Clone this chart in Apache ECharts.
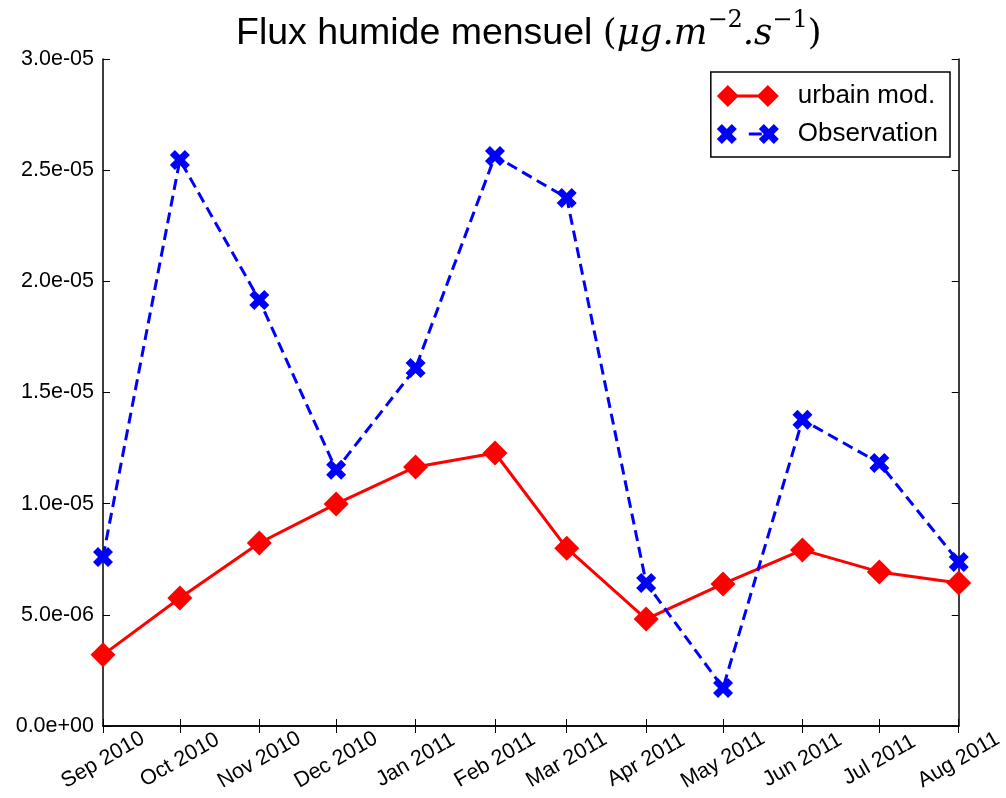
<!DOCTYPE html>
<html>
<head>
<meta charset="utf-8">
<script src="https://cdn.jsdelivr.net/npm/echarts@6/dist/echarts.min.js"></script>
<style>html,body{margin:0;padding:0;background:#fff;}#c{width:1006px;height:798px;}</style>
</head>
<body>
<div id="c"></div>
<script>
const dates = ['2010-09-01','2010-10-01','2010-11-01','2010-12-01','2011-01-01','2011-02-01','2011-03-01','2011-04-01','2011-05-01','2011-06-01','2011-07-01','2011-08-01'];
const monthLabels = ['Sep 2010','Oct 2010','Nov 2010','Dec 2010','Jan 2011','Feb 2011','Mar 2011','Apr 2011','May 2011','Jun 2011','Jul 2011','Aug 2011'];
const urbainMod = [3.2e-6, 5.76e-6, 8.23e-6, 9.99e-6, 11.65e-6, 12.28e-6, 8.0e-6, 4.81e-6, 6.39e-6, 7.92e-6, 6.93e-6, 6.43e-6];
const observation = [7.6e-6, 25.46e-6, 19.16e-6, 11.52e-6, 16.1e-6, 25.64e-6, 23.75e-6, 6.43e-6, 1.71e-6, 13.77e-6, 11.83e-6, 7.38e-6];

const FONT = 'Liberation Sans';
const MATH = 'DejaVu Serif';
const ts = dates.map(d => Date.UTC(+d.slice(0, 4), +d.slice(5, 7) - 1, +d.slice(8, 10)));

function fmtExp(v) {
  if (Math.abs(v) < 1e-20) return '0.0e+00';
  const s = v.toExponential(1);
  const parts = s.split('e');
  let e = parseInt(parts[1], 10);
  const sign = e < 0 ? '-' : '+';
  e = Math.abs(e);
  return parts[0] + 'e' + sign + (e < 10 ? '0' + e : '' + e);
}

const diamondIcon = 'path://M0,11 L11,0 L22,11 L11,22 Z M40,11 L51,0 L62,11 L51,22 Z M20,9.5 L42,9.5 L42,12.5 L20,12.5 Z';
const xShape = 'M3,0 L6,3 L9,0 L12,3 L9,6 L12,9 L9,12 L6,9 L3,12 L0,9 L3,6 L0,3 Z';
const xIcon = 'path://M5,0 L10,5 L15,0 L20,5 L15,10 L20,15 L15,20 L10,15 L5,20 L0,15 L5,10 L0,5 Z M47,0 L52,5 L57,0 L62,5 L57,10 L62,15 L57,20 L52,15 L47,20 L42,15 L47,10 L42,5 Z M32,8.5 L45,8.5 L45,11.5 L32,11.5 Z';

const chart = echarts.init(document.getElementById('c'));
chart.setOption({
  animation: false,
  backgroundColor: '#fff',
  title: {
    left: 236,
    top: 9,
    padding: 0,
    text: '{n|Flux humide mensuel }{m|(}{i|μg.m}{s|−2}{i|.s}{s|−1}{m|)}',
    textStyle: {
      fontWeight: 'normal',
      rich: {
        n: {fontFamily: FONT, fontSize: 37.5, fontWeight: 'normal', color: '#000', lineHeight: 44, verticalAlign: 'bottom'},
        m: {fontFamily: MATH, fontSize: 35.5, fontWeight: 'normal', color: '#000', lineHeight: 44, verticalAlign: 'bottom'},
        i: {fontFamily: MATH, fontStyle: 'italic', fontWeight: 'normal', fontSize: 35.5, color: '#000', lineHeight: 44, verticalAlign: 'bottom'},
        s: {fontFamily: MATH, fontSize: 24, fontWeight: 'normal', color: '#000', lineHeight: 40, verticalAlign: 'top'}
      }
    }
  },
  legend: {
    orient: 'vertical',
    right: 56,
    top: 72,
    padding: [9, 12, 8, 6],
    itemGap: 8,
    itemWidth: 62,
    itemHeight: 22,
    borderColor: '#000',
    borderWidth: 1.5,
    backgroundColor: '#fff',
    textStyle: {fontFamily: FONT, fontSize: 26, color: '#000', lineHeight: 30, padding: [0, 0, 0, 14]},
    data: [
      {name: 'urbain mod.', icon: diamondIcon},
      {name: 'Observation', icon: xIcon}
    ]
  },
  grid: {left: 103, right: 43, top: 59, bottom: 72, show: false},
  xAxis: [{
    type: 'value',
    min: ts[0],
    max: ts[ts.length - 1],
    position: 'bottom',
    axisLine: {show: true, lineStyle: {color: '#000', width: 1.5}},
    axisTick: {show: true, inside: true, length: 7, customValues: ts, lineStyle: {color: '#000', width: 1}},
    splitLine: {show: false},
    axisLabel: {
      customValues: ts,
      rotate: 30,
      align: 'center',
      verticalAlign: 'middle',
      margin: 34,
      fontFamily: FONT,
      fontSize: 21.5,
      color: '#000',
      formatter: function (v) {
        const i = ts.indexOf(v);
        return i >= 0 ? monthLabels[i] : '';
      }
    }
  }, {
    type: 'value',
    min: ts[0],
    max: ts[ts.length - 1],
    position: 'top',
    axisLine: {show: true, lineStyle: {color: '#000', width: 1.5}},
    axisTick: {show: true, inside: true, length: 7, customValues: ts, lineStyle: {color: '#000', width: 1}},
    axisLabel: {show: false},
    splitLine: {show: false}
  }],
  yAxis: [{
    type: 'value',
    min: 0,
    max: 3e-5,
    interval: 5e-6,
    position: 'left',
    axisLine: {show: true, lineStyle: {color: '#000', width: 1.5}},
    axisTick: {show: true, inside: true, length: 7, lineStyle: {color: '#000', width: 1}},
    splitLine: {show: false},
    axisLabel: {margin: 9, fontFamily: FONT, fontSize: 21.5, color: '#000', formatter: fmtExp}
  }, {
    type: 'value',
    min: 0,
    max: 3e-5,
    interval: 5e-6,
    position: 'right',
    axisLine: {show: true, lineStyle: {color: '#000', width: 1.5}},
    axisTick: {show: true, inside: true, length: 7, lineStyle: {color: '#000', width: 1}},
    splitLine: {show: false},
    axisLabel: {show: false}
  }],
  series: [{
    name: 'urbain mod.',
    type: 'line',
    xAxisIndex: 0,
    yAxisIndex: 0,
    data: ts.map((t, i) => [t, urbainMod[i]]),
    symbol: 'diamond',
    symbolSize: [25, 25],
    showAllSymbol: true,
    clip: true,
    itemStyle: {color: '#ff0000'},
    lineStyle: {color: '#ff0000', width: 3},
    z: 3
  }, {
    name: 'Observation',
    type: 'line',
    xAxisIndex: 0,
    yAxisIndex: 0,
    data: ts.map((t, i) => [t, observation[i]]),
    symbol: 'path://' + xShape,
    symbolSize: 20,
    showAllSymbol: true,
    clip: true,
    itemStyle: {color: '#0000ff'},
    lineStyle: {color: '#0000ff', width: 3, type: [11, 6]},
    z: 4
  }]
});
</script>
</body>
</html>
